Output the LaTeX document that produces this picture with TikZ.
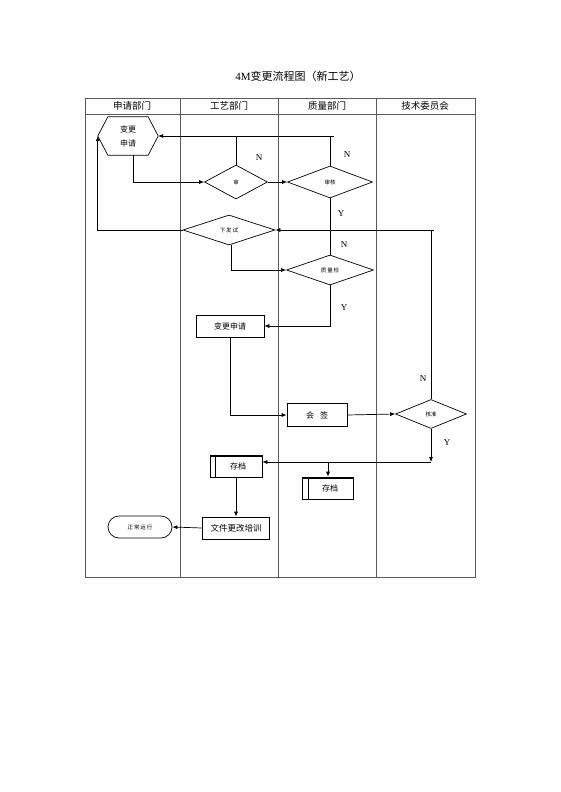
\documentclass[tikz,border=0pt]{standalone}
\usepackage{fontspec}
\setmainfont{Liberation Serif}
\newfontfamily\cjk{Noto Sans CJK SC}
\usetikzlibrary{shapes.geometric,arrows.meta,calc}
\begin{document}
\begin{tikzpicture}[x=1pt,y=-1pt,
  lane/.style={draw=black!65,line width=0.8pt},
  hdr/.style={font=\cjk\fontsize{9.5}{10}\selectfont},
  box/.style={draw,line width=0.7pt,inner sep=0pt,font=\cjk\fontsize{8}{9}\selectfont},
  dia/.style={draw,diamond,line width=0.7pt,inner sep=0pt,font=\cjk\fontsize{5.5}{6}\selectfont},
  conn/.style={line width=0.7pt},
  arr/.style={conn,-{Latex[length=5pt,width=4pt]}},
  yn/.style={font=\fontsize{9}{9}\selectfont}]
\useasboundingbox (0,0) rectangle (560,792);
\fill[white] (0,0) rectangle (560,792);
% title
\node[font=\fontsize{11}{11}\selectfont] (title) at (298,76) {4M{\cjk 变更流程图（新工艺）}};
% table
\draw[lane] (85,98) rectangle (475,577);
\draw[lane] (85,114) -- (475,114);
\foreach \xx in {180,278,376} {\draw[lane] (\xx,98) -- (\xx,577);}
\node[hdr] (h1) at (132,106) {申请部门};
\node[hdr] (h2) at (229,106) {工艺部门};
\node[hdr] (h3) at (327,106) {质量部门};
\node[hdr] (h4) at (425,106) {技术委员会};
% hexagon
\node[font=\cjk\fontsize{8}{14}\selectfont,align=center,minimum width=60pt,minimum height=38pt,inner sep=0pt] (hex) at (128,136) {变更\\申请};
\draw[line width=0.7pt] (hex.west) -- ($(hex.north west)+(10,0)$) -- ($(hex.north east)+(-10,0)$) -- (hex.east) -- ($(hex.south east)+(-10,0)$) -- ($(hex.south west)+(10,0)$) -- cycle;
% diamonds
\node[dia,minimum width=63pt,minimum height=34pt] (d1) at (236,182) {审};
\node[dia,minimum width=85pt,minimum height=32pt] (d2) at (330,182) {审核};
\node[dia,minimum width=92pt,minimum height=30pt] (d3) at (229,230) {下\,发\,试};
\node[dia,minimum width=87pt,minimum height=30pt] (d4) at (330,270) {质\,量\,检};
\node[dia,minimum width=71pt,minimum height=29pt] (d5) at (431,414) {核准};
% boxes
\node[box,minimum width=68pt,minimum height=22pt] (r1) at (230,326) {变更申请};
\node[box,minimum width=60pt,minimum height=23pt] (r2) at (317,415) {会\hspace{6pt}签};
\node[box,minimum width=52pt,minimum height=22pt] (s1) at (236,466) {\hspace{4pt}存档};
\node[box,minimum width=51pt,minimum height=22pt] (s2) at (328,488) {\hspace{4pt}存档};
\node[box,minimum width=67pt,minimum height=22pt,font=\cjk\fontsize{8.5}{9}\selectfont] (r3) at (236,528) {文件更改培训};
\node[box,rounded corners=11pt,minimum width=64pt,minimum height=22pt,font=\cjk\fontsize{5.5}{6}\selectfont] (t1) at (140,527) {正\,常\,运\,行};
% storage marks
\foreach \s in {s1,s2} {
  \draw[line width=0.6pt] ($(\s.north west)+(6,0)$) -- ($(\s.south west)+(6,0)$);
  \draw[line width=0.6pt] ($(\s.north west)+(0,2)$) -- ($(\s.north east)+(0,2)$);
}
% connectors
\draw[arr] ($(hex.south)+(5,0)$) |- (d1.west);
\draw[arr] (d1.east) -- (d2.west);
\draw[conn] (d1.north) -- (d1.north |- hex.east);
\coordinate (topj) at ($(d2.north |- hex.east)+(4,0)$);
\draw[conn] (d2.north) -- (d2.north |- hex.east) -- (topj);
\draw[arr] (d2.north |- hex.east) -- (hex.east);
\node[yn] (n1) at (259,158) {N};
\node[yn] (n2) at (347,155) {N};
\draw[conn] (d2.south) -- (d4.north);
\node[yn] (y1) at (341,214) {Y};
\node[yn] (n3) at (344,245) {N};
\coordinate (nc) at (431,230);
\coordinate (ncr) at (434,230);
\draw[conn] (d5.north) -- (nc) -- (ncr);
\draw[arr] (nc) -- (d3.east);
\node[yn] (n4) at (423,379) {N};
\draw[arr] (d3.west) -| (hex.west);
\draw[arr] ($(d3.south)+(2,0)$) |- (d4.west);
\draw[arr] (d4.south) |- (r1.east);
\node[yn] (y2) at (344,308) {Y};
\draw[arr] (r1.south) |- (r2.west);
\draw[arr] (r2.east) -- (d5.west);
\coordinate (yj) at (431,462);
\draw[arr] (d5.south) -- (yj);
\node[yn] (y3) at (447,443) {Y};
\draw[arr] (yj) -- (yj -| s1.east);
\draw[arr] (yj -| s2.north) -- (s2.north);
\draw[arr] (s1.south) -- (r3.north);
\draw[arr] (r3.west) -- (t1.east);
\end{tikzpicture}
\end{document}
